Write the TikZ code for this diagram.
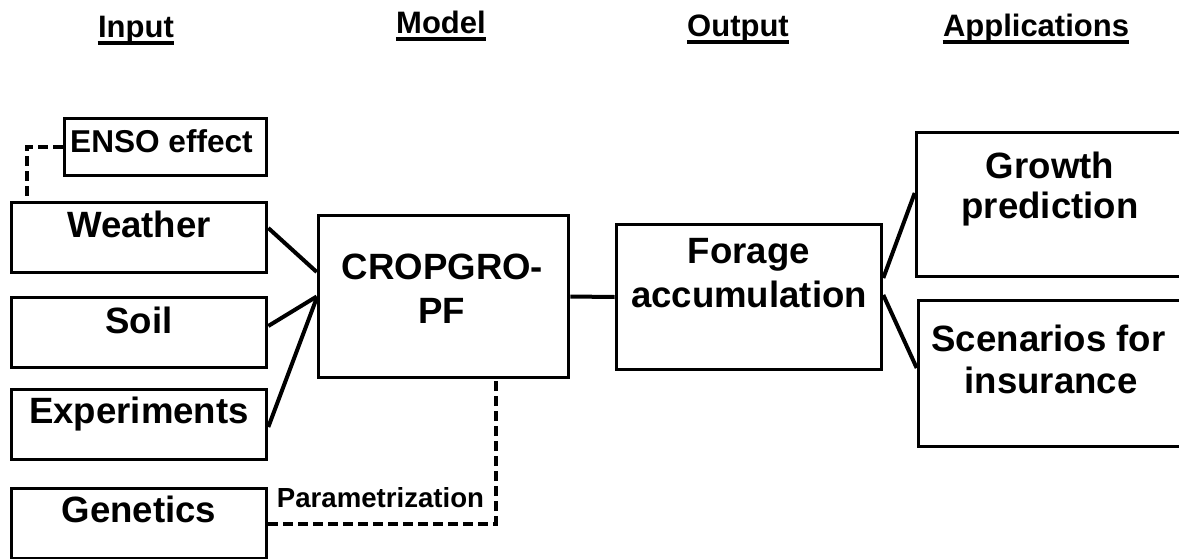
\documentclass[tikz,border=0pt]{standalone}
\usepackage{fontspec}
\setmainfont{Liberation Sans}
\usetikzlibrary{calc}
\begin{document}
\begin{tikzpicture}[x=0.5pt,y=-0.5pt]
\tikzset{
  boxs/.style={draw=black,line width=1.8pt,inner sep=0pt},
  bt/.style={font=\fontsize{18.3}{22}\selectfont\bfseries,inner sep=0pt,anchor=base},
  hdr/.style={font=\fontsize{15.5}{18}\selectfont\bfseries,inner sep=0pt,anchor=base},
  smt/.style={font=\fontsize{15.8}{18}\selectfont\bfseries,inner sep=0pt,anchor=base},
  part/.style={font=\fontsize{13.8}{16}\selectfont\bfseries,inner sep=0pt,anchor=base},
  conn/.style={line width=2pt},
  dconn/.style={line width=2pt,dash pattern=on 5pt off 2.5pt},
  uline/.style={line width=1.6pt}
}
\useasboundingbox (0,0) rectangle (1179,558);
\fill[white] (0,0) rectangle (1179,558);
\clip (0,0) rectangle (1179,558);

% headers
\node[hdr] (hin) at (136,37) {Input};
\node[hdr] (hmod) at (441,33) {Model};
\node[hdr] (hout) at (738,36) {Output};
\node[hdr] (happ) at (1036,36) {Applications};
\foreach \h in {hin,hmod,hout,happ}{
  \draw[uline] ([yshift=-3pt]\h.base west) -- ([yshift=-3pt]\h.base east);
}

% input boxes
\node[boxs,minimum width=101pt,minimum height=28.5pt] (enso) at (165.5,147) {};
\node[smt] (ensot) at (161.5,152) {ENSO effect};
\node[boxs,minimum width=127.5pt,minimum height=35pt] (weather) at (139,237.5) {};
\node[bt] (weathert) at (139,237) {Weather};
\node[boxs,minimum width=127.5pt,minimum height=35pt] (soil) at (139,332.5) {};
\node[bt] (soilt) at (139,333) {Soil};
\node[boxs,minimum width=127.5pt,minimum height=35pt] (exp) at (139,424.5) {};
\node[bt] (expt) at (139,423) {Experiments};
\node[boxs,minimum width=127.5pt,minimum height=35pt] (gen) at (139,523.5) {};
\node[bt] (gent) at (139,522) {Genetics};

% model
\node[boxs,minimum width=125pt,minimum height=81pt] (crop) at (443.5,296.5) {};
\node[bt] (cropt1) at (442.5,279) {CROPGRO-};
\node[bt] (cropt2) at (441.5,323) {PF};

% output
\node[boxs,minimum width=132.5pt,minimum height=72.5pt] (forage) at (749,297) {};
\node[bt] (foraget1) at (749,263) {Forage};
\node[bt] (foraget2) at (749,307) {accumulation};

% applications
\node[boxs,minimum width=133.5pt,minimum height=72pt] (growth) at (1050,204.5) {};
\node[bt] (growtht1) at (1050,178) {Growth};
\node[bt] (growtht2) at (1050,218) {prediction};
\node[boxs,minimum width=132.5pt,minimum height=73pt] (scen) at (1051,373.5) {};
\node[bt] (scent1) at (1048.5,351) {Scenarios for};
\node[bt] (scent2) at (1051,393) {insurance};

% connectors
\draw[conn] ($(weather.east)+(0,-9.5)$) -- ($(crop.west)+(0,-24.5)$);
\draw[conn] ($(soil.east)+(0,-6.5)$) -- (crop.west);
\draw[conn] ($(exp.east)+(0,2.5)$) -- ($(crop.west)+(0,1.5)$);
\draw[conn] (crop.east) -- (forage.west);
\draw[conn] ($(forage.east)+(0,-19)$) -- ($(growth.west)+(0,-11.5)$);
\draw[conn] ($(forage.east)+(0,-2)$) -- ($(scen.west)+(0,-5.5)$);

% dashed
\draw[dconn] (enso.west) -| ($(weather.north west)+(17,0)$);
\draw[dconn] (gen.east) -| ($(crop.south)+(52.5,0)$);
\node[part] (param) at (380.5,507) {Parametrization};
\end{tikzpicture}
\end{document}
